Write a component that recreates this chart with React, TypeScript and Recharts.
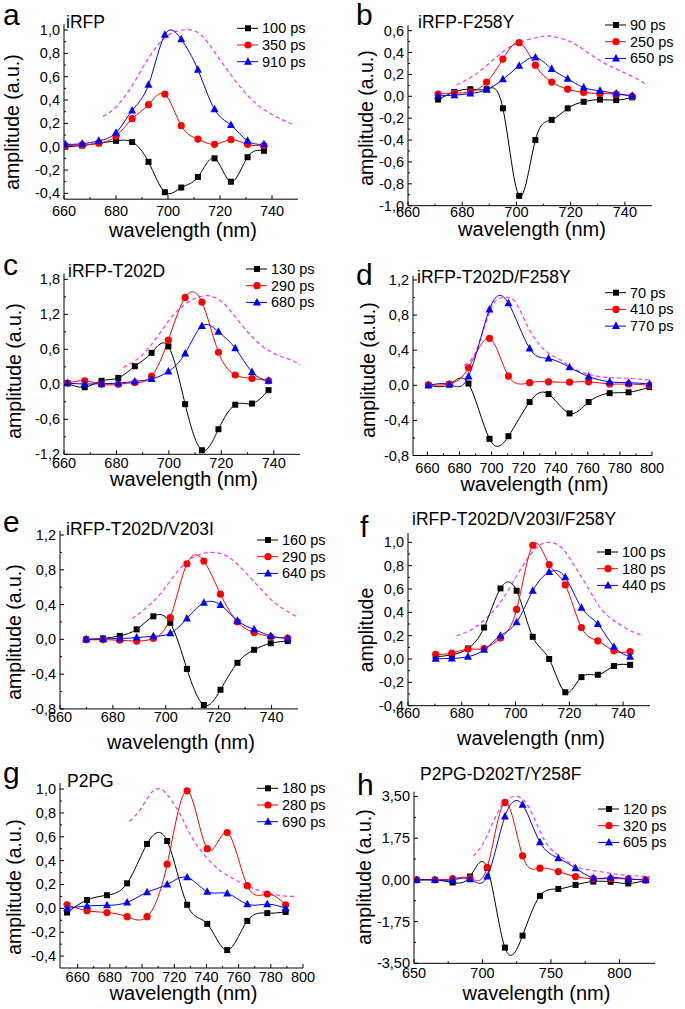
import React from 'react';
import { LineChart, Line, XAxis, YAxis } from 'recharts';

// ---- a: iRFP
const aWl = [660.5, 667, 673.4, 680, 686.2, 692.5, 698.8, 705.1, 711.5, 717.9, 724.2, 730.6, 736.9];
const aBlack = [0.0, 0.01, 0.03, 0.05, 0.04, -0.13, -0.39, -0.35, -0.26, -0.1, -0.3, -0.09, -0.035];
const aRed = [0.01, 0.015, 0.03, 0.09, 0.24, 0.36, 0.45, 0.18, 0.065, 0.02, 0.06, 0.02, 0.01];
const aBlue = [0.02, 0.025, 0.05, 0.12, 0.31, 0.53, 0.96, 0.92, 0.66, 0.32, 0.185, 0.05, 0.02];
const aDashWl = [675, 680, 686.4, 692.8, 699.2, 705.5, 712, 718.3, 724.7, 731, 737.5, 744, 748.3];
const aDash = [0.26, 0.34, 0.53, 0.77, 0.94, 1.0, 0.97, 0.8, 0.6, 0.43, 0.31, 0.23, 0.19];
const aTimes = ['100 ps', '350 ps', '910 ps'];

// ---- b: iRFP-F258Y
const bWl = [671.1, 677.1, 683, 689, 695, 701, 707, 713, 718.9, 724.8, 730.8, 736.8, 742.7];
const bBlack = [-0.03, 0.04, 0.065, 0.065, -0.11, -0.91, -0.4, -0.215, -0.11, -0.05, -0.03, -0.035, -0.01];
const bRed = [0.02, 0.03, 0.04, 0.13, 0.34, 0.49, 0.285, 0.13, 0.065, 0.035, 0.025, 0.02, 0.0];
const bBlue = [0.005, 0.01, 0.025, 0.06, 0.155, 0.28, 0.355, 0.25, 0.16, 0.08, 0.05, 0.025, 0.005];
const bDashWl = [677.9, 683.9, 689.9, 695.8, 701.8, 707.8, 712.5, 719.7, 725.7, 731.6, 737.6, 743.6, 747.8];
const bDash = [0.105, 0.185, 0.3, 0.42, 0.5, 0.54, 0.55, 0.5, 0.41, 0.315, 0.24, 0.17, 0.11];
const bTimes = ['90 ps', '250 ps', '650 ps'];

// ---- c: iRFP-T202D
const cWl = [661.3, 667.9, 674.3, 680.7, 687, 693.4, 699.8, 706.2, 712.6, 718.9, 725.3, 731.7, 738];
const cBlack = [0.02, -0.05, 0.06, 0.11, 0.31, 0.54, 0.65, -0.34, -1.13, -0.77, -0.35, -0.33, -0.1];
const cRed = [0.02, 0.06, 0.0, 0.0, 0.03, 0.14, 0.76, 1.49, 1.41, 0.55, 0.16, 0.1, 0.06];
const cBlue = [0.02, 0.005, 0.01, 0.02, 0.05, 0.09, 0.22, 0.53, 1.0, 0.9, 0.62, 0.21, 0.06];
const cDashWl = [682.6, 689, 695.3, 701.7, 708.1, 714.5, 720.8, 727.2, 733.6, 740, 746.4, 750];
const cDash = [0.29, 0.47, 0.8, 1.19, 1.43, 1.52, 1.39, 1.05, 0.73, 0.53, 0.42, 0.33];
const cTimes = ['130 ps', '290 ps', '680 ps'];

// ---- d: iRFP-T202D/F258Y
const dWl = [660.6, 673.7, 685.6, 698.7, 710.5, 723.7, 735.5, 748.6, 760.5, 773.6, 785.4, 798.5];
const dBlack = [0.0, 0.01, 0.02, -0.61, -0.58, -0.19, -0.1, -0.32, -0.19, -0.09, -0.08, -0.02];
const dRed = [0.005, 0.015, 0.2, 0.535, 0.105, 0.03, 0.04, 0.035, 0.04, 0.015, 0.015, 0.0];
const dBlue = [0.0, 0.01, 0.1, 0.865, 0.935, 0.42, 0.305, 0.205, 0.1, 0.04, 0.03, 0.015];
const dDashWl = [682.9, 688.7, 695, 701.2, 707.4, 713.7, 719.9, 726.2, 734.5, 742.8, 751.1, 761.5, 771.9, 784.4, 799];
const dDash = [0.23, 0.33, 0.63, 0.93, 1.0, 0.97, 0.77, 0.55, 0.38, 0.29, 0.19, 0.12, 0.09, 0.08, 0.06];
const dTimes = ['70 ps', '410 ps', '770 ps'];

// ---- e: iRFP-T202D/V203I
const eWl = [669.9, 676.3, 682.6, 689, 695.3, 701.7, 708, 714.4, 720.7, 727.1, 733.4, 739.7, 746.1];
const eBlack = [0.0, 0.01, 0.04, 0.115, 0.265, 0.19, -0.34, -0.755, -0.58, -0.27, -0.12, -0.045, -0.02];
const eRed = [-0.005, -0.005, -0.01, -0.02, 0.01, 0.25, 0.87, 0.9, 0.52, 0.2, 0.08, 0.03, 0.015];
const eBlue = [0.0, 0.005, 0.01, 0.02, 0.035, 0.07, 0.24, 0.42, 0.395, 0.215, 0.115, 0.04, 0.01];
const eDashWl = [687.3, 691.7, 698.1, 704.4, 710.8, 717.1, 723.5, 729.8, 736.2, 742.5, 750.2];
const eDash = [0.24, 0.34, 0.53, 0.78, 0.95, 1.0, 0.95, 0.78, 0.57, 0.39, 0.25];
const eTimes = ['160 ps', '290 ps', '640 ps'];

// ---- f: iRFP-T202D/V203I/F258Y
const fWl = [670.3, 676.3, 682.3, 688.3, 694.4, 700.4, 706.4, 712.5, 718.5, 724.5, 730.6, 736.6, 742.6];
const fBlack = [0.02, 0.035, 0.09, 0.27, 0.605, 0.585, 0.19, 0.0, -0.285, -0.155, -0.135, -0.06, -0.05];
const fRed = [0.04, 0.05, 0.085, 0.09, 0.18, 0.425, 0.975, 0.81, 0.635, 0.27, 0.155, 0.07, 0.063];
const fBlue = [0.003, 0.005, 0.02, 0.08, 0.2, 0.315, 0.585, 0.745, 0.7, 0.44, 0.3, 0.105, 0.02];
const fDashWl = [678.1, 683.5, 689.6, 695.6, 701.6, 707.6, 712.5, 717.3, 722.1, 727, 731.8, 737.8, 743.8, 747.5];
const fDash = [0.2, 0.25, 0.36, 0.53, 0.76, 0.95, 1.0, 0.95, 0.79, 0.61, 0.43, 0.31, 0.23, 0.205];
const fTimes = ['100 ps', '180 ps', '440 ps'];

// ---- g: P2PG
const gWl = [653.4, 665.8, 678.2, 690.7, 703.1, 715.6, 728, 740.5, 752.9, 765.4, 777.8, 789.2];
const gBlack = [-0.035, 0.07, 0.11, 0.21, 0.54, 0.565, 0.03, -0.13, -0.35, -0.105, -0.04, -0.03];
const gRed = [0.03, -0.02, -0.035, -0.07, -0.07, 0.37, 0.985, 0.5, 0.635, 0.19, 0.12, 0.03];
const gBlue = [0.0, 0.02, 0.025, 0.05, 0.135, 0.2, 0.26, 0.14, 0.125, 0.035, 0.035, 0.0];
const gDashWl = [692.2, 698.4, 704.6, 708.8, 712.9, 719.1, 725.4, 731.6, 739.9, 748.2, 756.5, 766.8, 777.2, 787.6, 795.9];
const gDash = [0.73, 0.82, 0.95, 1.0, 0.99, 0.89, 0.74, 0.58, 0.43, 0.32, 0.25, 0.18, 0.13, 0.105, 0.1];
const gTimes = ['180 ps', '280 ps', '690 ps'];

// ---- h: P2PG-D202T/Y258F
const hWl = [652, 665.3, 678.2, 690.9, 703.5, 716.4, 729.3, 742, 755.4, 768, 781, 793.6, 806.5, 819.2];
const hBlack = [0.0, 0.0, -0.11, 0.14, 0.5, -2.84, -2.34, -0.67, -0.38, -0.21, -0.07, -0.08, -0.15, -0.02];
const hRed = [0.0, 0.0, 0.05, 0.07, 0.53, 3.25, 1.01, 0.49, 0.35, 0.14, 0.05, 0.05, 0.04, 0.0];
const hBlue = [0.0, 0.0, 0.0, 0.03, 0.14, 2.66, 3.15, 1.58, 0.91, 0.49, 0.08, 0.1, 0.04, 0.0];
const hDashWl = [693.3, 700.6, 707.9, 715.3, 722.6, 729.9, 737.2, 744.5, 751.8, 761.6, 771.3, 785.9, 800.5, 822.4];
const hDash = [1.0, 1.54, 2.45, 3.22, 3.5, 3.36, 2.66, 1.75, 1.2, 0.8, 0.5, 0.35, 0.22, 0.14];
const hTimes = ['120 ps', '320 ps', '605 ps'];

// axis ticks
const xTicksShort = [660, 680, 700, 720, 740];
const xTicksLong = [660, 680, 700, 720, 740, 760, 780, 800];
const xTicksH = [650, 700, 750, 800];
const yTicksA = [-0.4, -0.2, 0, 0.2, 0.4, 0.6, 0.8, 1.0];
const yTicksB = [-1.0, -0.8, -0.6, -0.4, -0.2, 0, 0.2, 0.4, 0.6];
const yTicksC = [-1.2, -0.6, 0, 0.6, 1.2, 1.8];
const yTicksD = [-0.8, -0.4, 0, 0.4, 0.8, 1.2];
const yTicksH = [-3.5, -1.75, 0, 1.75, 3.5];

const FONT = '"Liberation Sans", Arial, Helvetica, sans-serif';
const YW = 40;
const XH = 25;

type Cfg = {
  letter: string;
  title: string;
  times: string[];
  wl: number[];
  black: number[];
  red: number[];
  blue: number[];
  dashWl: number[];
  dash: number[];
  xTicks: number[];
  yTicks: number[];
  digits: number;
  xDomain: [number, number];
  yDomain: [number, number];
  box: [number, number, number, number];
  plot: [number, number, number, number]; // left, right, top, bottom
  tickDy: number;
  letterAt: [number, number];
  titleAt: [number, number];
  legendAt: [number, number];
  yTitle: string;
  yTitleAt: [number, number];
  xTitleY: number;
};

const panels: Cfg[] = [
  {
    letter: 'a', title: 'iRFP', times: aTimes, wl: aWl, black: aBlack, red: aRed, blue: aBlue,
    dashWl: aDashWl, dash: aDash, xTicks: xTicksShort, yTicks: yTicksA, digits: 1,
    xDomain: [660, 750], yDomain: [-0.45, 1.05], box: [0, 0, 342, 250], plot: [64, 298, 24.2, 199.2], tickDy: 12,
    letterAt: [3, 25], titleAt: [66, 28], legendAt: [262, 28.3], yTitle: 'amplitude (a.u.)',
    yTitleAt: [13, 122], xTitleY: 231,
  },
  {
    letter: 'b', title: 'iRFP-F258Y', times: bTimes, wl: bWl, black: bBlack, red: bRed, blue: bBlue,
    dashWl: bDashWl, dash: bDash, xTicks: xTicksShort, yTicks: yTicksB, digits: 1,
    xDomain: [660, 750], yDomain: [-1.0, 0.65], box: [342, 0, 343, 250], plot: [408, 652, 25.2, 205.7], tickDy: 6.5,
    letterAt: [356, 25], titleAt: [418, 28], legendAt: [630, 25], yTitle: 'amplitude (a.u.)',
    yTitleAt: [367, 118], xTitleY: 230,
  },
  {
    letter: 'c', title: 'iRFP-T202D', times: cTimes, wl: cWl, black: cBlack, red: cRed, blue: cBlue,
    dashWl: cDashWl, dash: cDash, xTicks: xTicksShort, yTicks: yTicksC, digits: 1,
    xDomain: [660, 750], yDomain: [-1.2, 1.9], box: [0, 250, 342, 250], plot: [64, 300, 273.5, 454.3], tickDy: 8.5,
    letterAt: [3, 275], titleAt: [68, 277], legendAt: [271, 269], yTitle: 'amplitude (a.u.)',
    yTitleAt: [15, 371], xTitleY: 479.5,
  },
  {
    letter: 'd', title: 'iRFP-T202D/F258Y', times: dTimes, wl: dWl, black: dBlack, red: dRed, blue: dBlue,
    dashWl: dDashWl, dash: dDash, xTicks: xTicksLong, yTicks: yTicksD, digits: 1,
    xDomain: [651, 800], yDomain: [-0.8, 1.25], box: [342, 250, 343, 250], plot: [413, 652, 275.6, 455.5], tickDy: 12,
    letterAt: [356, 285], titleAt: [417, 283], legendAt: [630, 292.7], yTitle: 'amplitude (a.u.)',
    yTitleAt: [369, 370], xTitleY: 484.5,
  },
  {
    letter: 'e', title: 'iRFP-T202D/V203I', times: eTimes, wl: eWl, black: eBlack, red: eRed, blue: eBlue,
    dashWl: eDashWl, dash: eDash, xTicks: xTicksShort, yTicks: yTicksD, digits: 1,
    xDomain: [660, 750], yDomain: [-0.8, 1.25], box: [0, 500, 342, 250], plot: [60, 298, 530.7, 708.9], tickDy: 8,
    letterAt: [3, 532], titleAt: [66, 535], legendAt: [282, 540], yTitle: 'amplitude (a.u.)',
    yTitleAt: [15, 632], xTitleY: 743,
  },
  {
    letter: 'f', title: 'iRFP-T202D/V203I/F258Y', times: fTimes, wl: fWl, black: fBlack, red: fRed, blue: fBlue,
    dashWl: fDashWl, dash: fDash, xTicks: xTicksShort, yTicks: yTicksA, digits: 1,
    xDomain: [660, 750], yDomain: [-0.4, 1.08], box: [342, 500, 343, 250], plot: [408, 650, 533, 705.7], tickDy: 7.5,
    letterAt: [360, 537], titleAt: [412, 525], legendAt: [622, 552], yTitle: 'amplitude',
    yTitleAt: [367, 630], xTitleY: 739,
  },
  {
    letter: 'g', title: 'P2PG', times: gTimes, wl: gWl, black: gBlack, red: gRed, blue: gBlue,
    dashWl: gDashWl, dash: gDash, xTicks: xTicksLong, yTicks: yTicksA, digits: 1,
    xDomain: [649, 800], yDomain: [-0.5, 1.05], box: [0, 750, 342, 259], plot: [60, 303, 783.1, 968], tickDy: 8.5,
    letterAt: [3, 783], titleAt: [67, 787], legendAt: [282, 788.3], yTitle: 'amplitude (a.u.)',
    yTitleAt: [15, 887], xTitleY: 994,
  },
  {
    letter: 'h', title: 'P2PG-D202T/Y258F', times: hTimes, wl: hWl, black: hBlack, red: hRed, blue: hBlue,
    dashWl: hDashWl, dash: hDash, xTicks: xTicksH, yTicks: yTicksH, digits: 2,
    xDomain: [650, 826], yDomain: [-3.5, 3.7], box: [342, 750, 343, 259], plot: [414, 655, 791.7, 963.3], tickDy: 9.5,
    letterAt: [357, 795], titleAt: [420, 780], legendAt: [623, 809], yTitle: 'amplitude (a.u.)',
    yTitleAt: [365, 877], xTitleY: 994,
  },
];

const pts = (xs: number[], ys: number[]) => xs.map((x, i) => ({ x, y: ys[i] }));
const withMinor = (t: number[]) => [...t, ...t.slice(1).map((v, i) => (v + t[i]) / 2)];
const fmt = (v: number, d: number) => v.toFixed(d).replace('.', ',');

const SquareDot = (p: any) => (
  <rect key={`s${p.index}`} x={p.cx - 3} y={p.cy - 3} width={6} height={6} fill="#000" />
);
const CircleDot = (p: any) => <circle key={`c${p.index}`} cx={p.cx} cy={p.cy} r={3.6} fill="#ff0000" />;
const TriDot = (p: any) => (
  <polygon
    key={`t${p.index}`}
    points={`${p.cx},${p.cy - 4.5} ${p.cx - 4},${p.cy + 3} ${p.cx + 4},${p.cy + 3}`}
    fill="#0000ff"
  />
);

function Panel({ p }: { p: Cfg }) {
  const [bx, by, bw, bh] = p.box;
  const [l, r, t, b] = p.plot;
  const margin = { top: t - by, right: bx + bw - r, bottom: by + bh - b - XH, left: l - bx - YW };
  return (
    <div style={{ position: 'absolute', left: bx, top: by }}>
      <LineChart width={bw} height={bh} margin={margin}>
        <XAxis
          dataKey="x"
          type="number"
          domain={p.xDomain}
          allowDataOverflow
          ticks={withMinor(p.xTicks)}
          interval={0}
          height={XH}
          tickSize={0}
          tickMargin={0}
          tickLine={false}
          axisLine={{ stroke: '#000' }}
          tick={(tp: any) => {
            const major = p.xTicks.includes(tp.payload.value);
            return (
              <g>
                <line x1={tp.x} x2={tp.x} y1={tp.y} y2={tp.y - (major ? 4 : 2)} stroke="#000" />
                {major && (
                  <text x={tp.x} y={tp.y + p.tickDy + 5} textAnchor="middle" fontSize={14.5} fontFamily={FONT} fill="#000">
                    {tp.payload.value}
                  </text>
                )}
              </g>
            );
          }}
        />
        <YAxis
          type="number"
          domain={p.yDomain}
          allowDataOverflow
          ticks={withMinor(p.yTicks)}
          interval={0}
          width={YW}
          tickSize={0}
          tickMargin={0}
          tickLine={false}
          axisLine={{ stroke: '#000' }}
          tick={(tp: any) => {
            const major = p.yTicks.includes(tp.payload.value);
            return (
              <g>
                <line x1={tp.x} x2={tp.x + (major ? 4 : 2)} y1={tp.y} y2={tp.y} stroke="#000" />
                {major && (
                  <text x={tp.x - 4} y={tp.y + 5} textAnchor="end" fontSize={14.5} fontFamily={FONT} fill="#000">
                    {fmt(tp.payload.value, p.digits)}
                  </text>
                )}
              </g>
            );
          }}
        />
        <Line
          data={pts(p.dashWl, p.dash)}
          dataKey="y"
          type="natural"
          stroke="#ff33ff"
          strokeWidth={1.2}
          strokeDasharray="4 3"
          dot={false}
          isAnimationActive={false}
        />
        <Line data={pts(p.wl, p.black)} dataKey="y" type="natural" stroke="#000" strokeWidth={1} dot={SquareDot} isAnimationActive={false} />
        <Line data={pts(p.wl, p.red)} dataKey="y" type="natural" stroke="#ff0000" strokeWidth={1} dot={CircleDot} isAnimationActive={false} />
        <Line data={pts(p.wl, p.blue)} dataKey="y" type="natural" stroke="#0000ff" strokeWidth={1} dot={TriDot} isAnimationActive={false} />
      </LineChart>
    </div>
  );
}

const legendColors = ['#000', '#ff0000', '#0000ff'];

function Texts({ p }: { p: Cfg }) {
  const [l, r] = p.plot;
  const [lx, ly] = p.legendAt;
  return (
    <g fontFamily={FONT} fill="#000">
      <text x={p.letterAt[0]} y={p.letterAt[1]} fontSize={30}>{p.letter}</text>
      <text x={p.titleAt[0]} y={p.titleAt[1]} fontSize={17.5}>{p.title}</text>
      <text x={(l + r) / 2 + 2} y={p.xTitleY + 6} textAnchor="middle" fontSize={20}>wavelength (nm)</text>
      <text transform={`translate(${p.yTitleAt[0] + 6},${p.yTitleAt[1]}) rotate(-90)`} textAnchor="middle" fontSize={19.5}>
        {p.yTitle}
      </text>
      {p.times.map((label, i) => {
        const y = ly + i * 16.7;
        const mx = lx - 14;
        const c = legendColors[i];
        return (
          <g key={label}>
            <line x1={lx - 25} x2={lx - 4} y1={y} y2={y} stroke={c} strokeWidth={1} />
            {i === 0 && <rect x={mx - 3} y={y - 3} width={6} height={6} fill={c} />}
            {i === 1 && <circle cx={mx} cy={y} r={3.6} fill={c} />}
            {i === 2 && <polygon points={`${mx},${y - 4.5} ${mx - 4},${y + 3} ${mx + 4},${y + 3}`} fill={c} />}
            <text x={lx} y={y + 5} fontSize={14.5}>{label}</text>
          </g>
        );
      })}
    </g>
  );
}

export default function App() {
  return (
    <div style={{ position: 'absolute', left: 0, top: 0, width: 685, height: 1009, background: '#fff', overflow: 'hidden' }}>
      {panels.map((p) => (
        <Panel key={p.letter} p={p} />
      ))}
      <svg width={685} height={1009} style={{ position: 'absolute', left: 0, top: 0, pointerEvents: 'none' }}>
        {panels.map((p) => (
          <Texts key={p.letter} p={p} />
        ))}
      </svg>
    </div>
  );
}
